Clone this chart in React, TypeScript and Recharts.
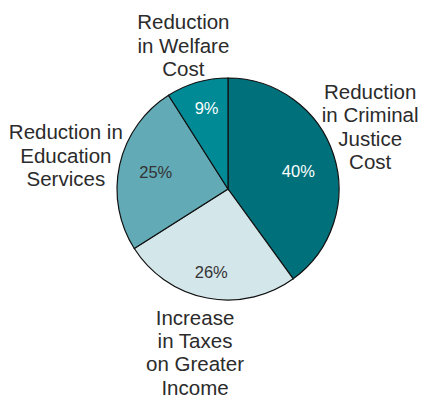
import { PieChart, Pie, Cell } from 'recharts';

// 슬라이스 데이터 (12시 방향부터 시계방향)
const CATEGORIES = [
  'Reduction in Criminal Justice Cost',
  'Increase in Taxes on Greater Income',
  'Reduction in Education Services',
  'Reduction in Welfare Cost',
];
const SHARES = [40, 26, 25, 9];
const LABEL_LINES = [
  ['Reduction', 'in Criminal', 'Justice', 'Cost'],
  ['Increase', 'in Taxes', 'on Greater', 'Income'],
  ['Reduction in', 'Education', 'Services'],
  ['Reduction', 'in Welfare', 'Cost'],
];

// 스타일
const COLORS = ['#00707a', '#d3e6ea', '#62aab5', '#008a96'];
const PCT_COLORS = ['#ffffff', '#333333', '#333333', '#ffffff'];
const PCT_RADIUS = [74, 84, 74, 84];
const PCT_NUDGE = [[0, 5], [-1, 0], [0, -1], [2, 0]];
const OUTER_RADIUS_LABEL = 160;
const OUTER_NUDGE = [[-10, -13], [-3, 6], [-6, 1], [0, 10]];

const FONT = '"Liberation Sans", Arial, sans-serif';
const RAD = Math.PI / 180;

const data = CATEGORIES.map((name, i) => ({ name, value: SHARES[i] }));

function renderLabel(props: any) {
  const { cx, cy, midAngle, index, value } = props;
  const cos = Math.cos(-midAngle * RAD);
  const sin = Math.sin(-midAngle * RAD);
  const px = cx + PCT_RADIUS[index] * cos + PCT_NUDGE[index][0];
  const py = cy + PCT_RADIUS[index] * sin + PCT_NUDGE[index][1];
  const ox = cx + OUTER_RADIUS_LABEL * cos + OUTER_NUDGE[index][0];
  const oy = cy + OUTER_RADIUS_LABEL * sin + OUTER_NUDGE[index][1];
  const lines = LABEL_LINES[index];
  const lineH = 23.4;
  return (
    <g key={`label-${index}`}>
      <text
        x={px}
        y={py}
        textAnchor="middle"
        dominantBaseline="central"
        fill={PCT_COLORS[index]}
        fontSize={16.5}
        fontFamily={FONT}
      >
        {`${value}%`}
      </text>
      {lines.map((line, i) => (
        <text
          key={i}
          x={ox}
          y={oy + (i - (lines.length - 1) / 2) * lineH}
          textAnchor="middle"
          dominantBaseline="central"
          fill="#2b2b2b"
          fontSize={20.5}
          fontFamily={FONT}
        >
          {line}
        </text>
      ))}
    </g>
  );
}

export default function App() {
  return (
    <div style={{ position: 'absolute', left: 0, top: 0, background: '#fff' }}>
      <PieChart width={421} height={398} margin={{ top: 0, right: 0, bottom: 0, left: 0 }}>
        <Pie
          data={data}
          dataKey="value"
          nameKey="name"
          cx={228}
          cy={189}
          innerRadius={0}
          outerRadius={111}
          startAngle={90}
          endAngle={-270}
          stroke="#111"
          strokeWidth={1.2}
          label={renderLabel}
          labelLine={false}
          isAnimationActive={false}
        >
          {data.map((_, index) => (
            <Cell key={`cell-${index}`} fill={COLORS[index]} />
          ))}
        </Pie>
      </PieChart>
    </div>
  );
}
